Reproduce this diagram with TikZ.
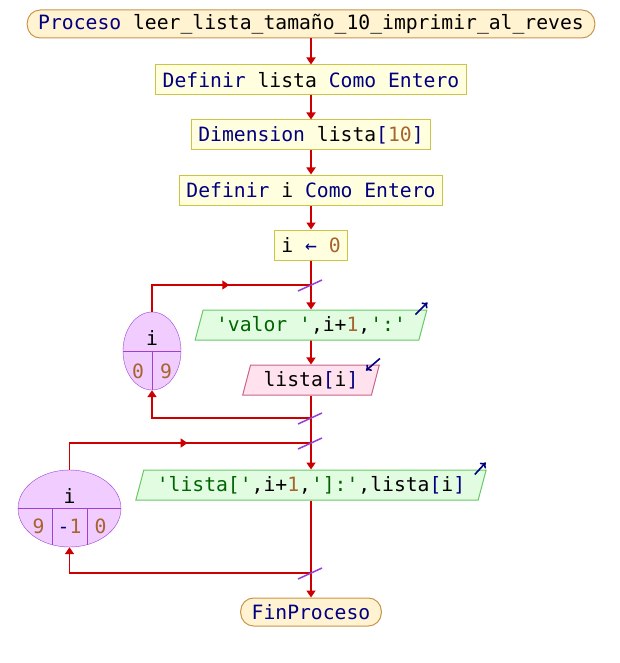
\documentclass[tikz,border=0pt]{standalone}
\usepackage{fontspec}
\setmonofont{DejaVu Sans Mono}
\usetikzlibrary{shapes.geometric, arrows.meta, positioning, decorations.markings}
\definecolor{flujo}{HTML}{CC0000}
\definecolor{corte}{HTML}{9440D4}
\definecolor{fondoterm}{HTML}{FFF3D2}
\definecolor{bordeterm}{HTML}{C8944A}
\definecolor{fondoacc}{HTML}{FFFFE0}
\definecolor{bordeacc}{HTML}{CCC444}
\definecolor{fondosal}{HTML}{E2FCE2}
\definecolor{bordesal}{HTML}{66C866}
\definecolor{fondoent}{HTML}{FFE2EE}
\definecolor{bordeent}{HTML}{C8648C}
\definecolor{fondociclo}{HTML}{F0CCFF}
\definecolor{bordeciclo}{HTML}{A040D0}
\definecolor{clave}{HTML}{000080}
\definecolor{numero}{HTML}{A8642E}
\definecolor{cadena}{HTML}{006400}
\newcommand\kw[1]{\textcolor{clave}{#1}}
\newcommand\nm[1]{\textcolor{numero}{#1}}
\newcommand\cad[1]{\textcolor{cadena}{#1}}
\tikzset{
    every node/.style={font=\fontsize{19.7}{23}\selectfont\ttfamily},
    terminal/.style={draw=bordeterm, fill=fondoterm, rounded corners=13pt, minimum height=28pt, inner xsep=11pt, inner ysep=0pt, line width=1pt},
    accion/.style={draw=bordeacc, fill=fondoacc, minimum height=30pt, inner xsep=7pt, inner ysep=0pt, line width=1pt},
    salida/.style={trapezium, trapezium left angle=66, trapezium right angle=114, trapezium stretches body,
        draw=bordesal, fill=fondosal, minimum height=30pt, inner xsep=13pt, inner ysep=0pt, line width=1pt},
    entrada/.style={salida, draw=bordeent, fill=fondoent},
    ciclo/.style={ellipse, draw=bordeciclo, fill=fondociclo, inner sep=0pt},
    linea/.style={flujo, line width=1.7pt},
    flecha/.style={linea, -{Triangle[length=7pt,width=9pt]}},
    medio/.style={postaction={decorate}, decoration={markings,
        mark=at position #1 with {\arrow{Triangle[length=7pt,width=9pt]}}}},
    cortar/.style={draw=corte, line width=1.5pt},
    io/.style={draw=clave, line width=1.6pt, -{To[length=5pt,width=8pt]}},
}

\begin{document}
\begin{tikzpicture}[x=1pt, y=-1pt]
\useasboundingbox (0,0) rectangle (620,663);

% secuencia principal
\node[terminal] (proc) at (311,24) {\kw{Proceso} leer\_lista\_tamaño\_10\_imprimir\_al\_reves};
\node[accion] (def1) at (311,80) {\kw{Definir} lista \kw{Como Entero}};
\node[accion] (dim) at (311,135) {\kw{Dimension} lista\kw{[}\nm{10}\kw{]}};
\node[accion] (defi) at (311,190) {\kw{Definir} i \kw{Como Entero}};
\node[accion] (asig) at (311,245) {i \kw{←} \nm{0}};
\coordinate (j1) at (311,285);
\node[salida] (sal1) at (311,325) {\cad{'valor '},i+\nm{1},\cad{':'}};
\node[entrada] (ent1) at (311,380) {lista\kw{[}i\kw{]}};
\coordinate (j2) at (311,418);
\coordinate (j3) at (311,443);
\node[salida] (sal2) at (311,485) {\cad{'lista['},i+\nm{1},\cad{']:'},lista\kw{[}i\kw{]}};
\coordinate (j4) at (311,573);
\node[terminal] (fin) at (311,612) {\kw{FinProceso}};

% ciclos
\node[ciclo, minimum width=58pt, minimum height=78pt] (e1) at (152,351) {};
\draw[bordeciclo] (e1.west) -- (e1.east);
\draw[bordeciclo] (e1.center) -- (e1.south);
\node (e1var) at ([yshift=13pt]e1) {i};
\node (e1ini) at ([xshift=-14pt,yshift=-20pt]e1) {\nm{0}};
\node (e1fin) at ([xshift=14pt,yshift=-20pt]e1) {\nm{9}};

\node[ciclo, minimum width=103pt, minimum height=77pt] (e2) at (69.5,508.5) {};
\draw[bordeciclo] (e2.west) -- (e2.east);
\draw[bordeciclo] ([xshift=-17.5pt]e2.center) -- ++(0,36);
\draw[bordeciclo] ([xshift=17.5pt]e2.center) -- ++(0,36);
\node (e2var) at ([yshift=12pt]e2) {i};
\node (e2ini) at ([xshift=-31pt,yshift=-18pt]e2) {\nm{9}};
\node (e2paso) at ([yshift=-18pt]e2) {\kw{-}\nm{1}};
\node (e2fin) at ([xshift=31pt,yshift=-18pt]e2) {\nm{0}};

% conectores
\draw[flecha] (proc) -- (def1);
\draw[flecha] (def1) -- (dim);
\draw[flecha] (dim) -- (defi);
\draw[flecha] (defi) -- (asig);
\draw[linea] (asig) -- (j1);
\draw[flecha] (j1) -- (sal1);
\draw[flecha] (sal1) -- (ent1);
\draw[linea] (ent1) -- (j3);
\draw[linea, medio=0.56] (e1.north) |- (j1);
\draw[flecha] (j2) -| (e1.south);
\draw[flecha] (j3) -- (sal2);
\draw[linea] (sal2) -- (j4);
\draw[linea, medio=0.54] (e2.north) |- (j3);
\draw[flecha] (j4) -| (e2.south);
\draw[flecha] (j4) -- (fin);

% marcas de corte
\foreach \j in {j1, j2, j3, j4}
    \draw[cortar] ([shift={(-13,6)}]\j) -- ([shift={(11,-5)}]\j);

% lectura / escritura
\draw[io] ([shift={(-12,5)}]sal1.top right corner) -- ++(12,-12);
\draw[io] ([shift={(0,-6)}]ent1.top right corner) -- ++(-14,12);
\draw[io] ([shift={(-12,5)}]sal2.top right corner) -- ++(11,-12);
\end{tikzpicture}
\end{document}
